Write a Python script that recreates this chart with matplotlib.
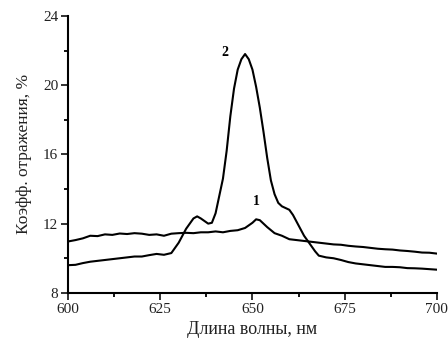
import numpy as np
import matplotlib
matplotlib.use('Agg')
from matplotlib import pyplot as plt
from matplotlib.ticker import MultipleLocator

# curve 1
wl1 = [600, 602, 604, 606, 608, 610, 612, 614, 616, 618, 620, 622, 624, 626, 628,
       630, 632, 634, 636, 638, 640, 642, 644, 646, 648, 650, 651, 652, 654, 656,
       658, 660, 662, 664, 666, 668, 670, 672, 674, 676, 678, 680, 682, 684, 686,
       688, 690, 692, 694, 696, 698, 700]
r1 = [10.97, 11.05, 11.15, 11.3, 11.28, 11.38, 11.35, 11.43, 11.4, 11.45, 11.42, 11.35,
      11.38, 11.3, 11.42, 11.45, 11.47, 11.45, 11.5, 11.5, 11.55, 11.5, 11.58, 11.62,
      11.75, 12.05, 12.25, 12.2, 11.8, 11.45, 11.3, 11.1, 11.05, 11.0, 10.95, 10.9,
      10.85, 10.8, 10.78, 10.72, 10.68, 10.65, 10.6, 10.55, 10.52, 10.5, 10.45, 10.42,
      10.38, 10.33, 10.32, 10.27]

# curve 2
wl2 = [600, 602, 604, 606, 608, 610, 612, 614, 616, 618, 620, 622, 624, 626, 628,
       630, 632, 634, 635, 636, 638, 639, 640, 641, 642, 643, 644, 645, 646, 647,
       648, 649, 650, 651, 652, 653, 654, 655, 656, 657, 658, 660, 661, 662, 663,
       664, 665, 666, 667, 668, 670, 672, 674, 676, 678, 680, 682, 684, 686, 688,
       690, 692, 694, 696, 698, 700]
r2 = [9.6, 9.62, 9.72, 9.8, 9.85, 9.9, 9.95, 10.0, 10.05, 10.1, 10.1, 10.18, 10.25,
      10.2, 10.3, 10.9, 11.7, 12.3, 12.42, 12.3, 12.0, 12.05, 12.6, 13.6, 14.6, 16.2,
      18.2, 19.8, 20.9, 21.5, 21.8, 21.5, 20.9, 19.9, 18.7, 17.3, 15.8, 14.5, 13.7,
      13.2, 13.0, 12.8, 12.5, 12.1, 11.7, 11.3, 11.0, 10.7, 10.4, 10.15, 10.05, 10.0,
      9.9, 9.78, 9.7, 9.65, 9.6, 9.55, 9.5, 9.5, 9.48, 9.43, 9.42, 9.4, 9.37, 9.34]

plt.rcParams['font.family'] = ['Liberation Serif', 'DejaVu Serif']

fig = plt.figure(figsize=(4.48, 3.47), dpi=100)
ax = fig.add_axes([0.152, 0.156, 0.823, 0.798])

ax.plot(wl1, r1, color='black', lw=1.5)
ax.plot(wl2, r2, color='black', lw=1.5)

ax.text(642.4, 21.9, '2', fontsize=10, fontweight='bold', ha='center', va='center')
ax.text(651, 13.3, '1', fontsize=10, fontweight='bold', ha='center', va='center')

ax.set_xlim(600, 700)
ax.set_ylim(8, 24)
ax.xaxis.set_major_locator(MultipleLocator(25))
ax.xaxis.set_minor_locator(MultipleLocator(12.5))
ax.yaxis.set_major_locator(MultipleLocator(4))
ax.yaxis.set_minor_locator(MultipleLocator(2))

for s in ['top', 'right']:
    ax.spines[s].set_visible(False)
for s in ['left', 'bottom']:
    ax.spines[s].set_linewidth(1.5)

ax.tick_params(which='major', direction='out', length=5, width=1.3, labelsize=11,
               colors='#222222', pad=2)
ax.tick_params(which='minor', direction='out', length=3, width=1.3)

ax.set_xlabel('Длина волны, нм', fontsize=13, color='#222222', labelpad=4)
ax.set_ylabel('Коэфф. отражения, %', fontsize=12.5, color='#222222', labelpad=8)

fig.savefig('out.png', dpi=100)
